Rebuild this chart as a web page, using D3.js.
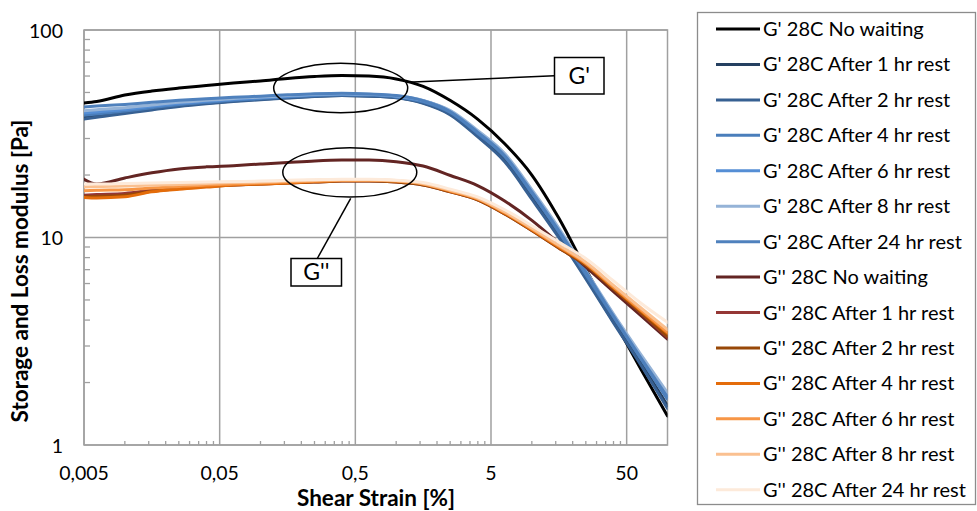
<!DOCTYPE html>
<html>
<head>
<meta charset="utf-8">
<script src="https://cdn.jsdelivr.net/npm/d3@7/dist/d3.min.js"></script>
<style>
  html, body { margin: 0; padding: 0; background: #fff; }
  svg { display: block; }
  text { font-family: Lato, "Open Sans", sans-serif; fill: #000; }
</style>
</head>
<body>
<svg id="chart" width="977" height="511"></svg>
<script>
// ---------- DATA ----------
const strain = [0.005, 0.0062, 0.01, 0.0158, 0.0251, 0.0398, 0.0631, 0.1, 0.158, 0.251, 0.398, 0.631, 1, 1.58, 2.51, 3.98, 6.31, 10, 15.8, 25.1, 39.8, 63.1, 100];

const seriesNames = [
  "G' 28C No waiting",
  "G' 28C After 1 hr rest",
  "G' 28C After 2 hr rest",
  "G' 28C After 4 hr rest",
  "G' 28C After 6 hr rest",
  "G' 28C After 8 hr rest",
  "G' 28C After 24 hr rest",
  "G'' 28C No waiting",
  "G'' 28C After 1 hr rest",
  "G'' 28C After 2 hr rest",
  "G'' 28C After 4 hr rest",
  "G'' 28C After 6 hr rest",
  "G'' 28C After 8 hr rest",
  "G'' 28C After 24 hr rest"
];

const seriesColors = [
  "#000000", "#254061", "#376092", "#4A7EBB", "#558ED5", "#95B3D7", "#4F81BD",
  "#632523", "#953735", "#984807", "#E46C0A", "#F79646", "#FAC090", "#FDEADA"
];

const gp_none = [44.5, 45.2, 48.6, 50.8, 52.5, 54.0, 55.5, 56.8, 58.4, 59.7, 60.4, 60.0, 58.1, 53.5, 45.7, 37.2, 28.3, 20.0, 12.4, 7.0, 4.05, 2.34, 1.38];
const gp_1h   = [38.0, 38.6, 40.0, 41.6, 43.2, 44.4, 45.5, 46.4, 47.2, 48.0, 48.4, 48.1, 47.3, 44.6, 39.3, 31.0, 23.6, 15.6, 10.2, 6.4, 3.95, 2.50, 1.55];
const gp_2h   = [37.2, 38.0, 39.6, 41.2, 42.8, 44.1, 45.2, 46.1, 47.0, 47.8, 48.3, 48.0, 47.1, 44.3, 39.0, 30.6, 23.2, 15.3, 10.0, 6.3, 3.90, 2.45, 1.50];
const gp_4h   = [38.8, 39.4, 40.7, 42.2, 43.7, 44.8, 45.9, 46.7, 47.6, 48.4, 48.8, 48.5, 47.6, 45.1, 40.0, 31.8, 24.5, 16.3, 10.6, 6.6, 4.15, 2.62, 1.66];
const gp_6h   = [39.8, 40.3, 41.4, 42.9, 44.3, 45.4, 46.4, 47.2, 48.0, 48.8, 49.2, 48.9, 48.0, 45.6, 40.6, 32.4, 25.0, 16.7, 10.9, 6.8, 4.25, 2.70, 1.72];
const gp_8h   = [40.8, 41.3, 42.2, 43.5, 44.8, 45.8, 46.8, 47.5, 48.3, 49.0, 49.3, 49.0, 48.2, 45.8, 40.9, 32.8, 25.4, 17.0, 11.1, 6.9, 4.30, 2.75, 1.78];
const gp_24h  = [42.6, 43.0, 43.8, 44.8, 45.8, 46.6, 47.4, 48.0, 48.7, 49.3, 49.6, 49.2, 48.3, 45.6, 40.4, 32.2, 24.8, 16.6, 10.8, 6.8, 4.20, 2.65, 1.70];

const gpp_none = [19.1, 18.1, 19.35, 20.5, 21.4, 21.9, 22.2, 22.6, 23.0, 23.4, 23.6, 23.6, 23.2, 22.1, 19.9, 17.8, 15.0, 12.1, 9.4, 7.2, 5.5, 4.23, 3.24];
const gpp_1h   = [16.0, 16.1, 16.3, 16.9, 17.4, 17.7, 17.9, 18.1, 18.3, 18.5, 18.7, 18.7, 18.5, 17.9, 16.6, 15.2, 13.0, 10.8, 8.9, 7.35, 5.65, 4.35, 3.30];
const gpp_2h   = [15.7, 15.8, 16.0, 16.7, 17.2, 17.6, 17.9, 18.1, 18.3, 18.5, 18.7, 18.7, 18.5, 17.9, 16.6, 15.2, 13.0, 10.8, 8.9, 7.35, 5.65, 4.37, 3.34];
const gpp_4h   = [15.6, 15.5, 15.7, 16.6, 17.1, 17.5, 17.9, 18.1, 18.3, 18.6, 18.8, 18.9, 18.7, 18.1, 16.7, 15.3, 13.1, 10.9, 9.0, 7.45, 5.75, 4.45, 3.45];
const gpp_6h   = [16.8, 16.9, 17.0, 17.3, 17.6, 17.9, 18.1, 18.3, 18.5, 18.7, 18.9, 18.9, 18.7, 18.1, 16.8, 15.4, 13.2, 11.0, 9.1, 7.5, 5.8, 4.5, 3.5];
const gpp_8h   = [17.5, 17.6, 17.7, 17.9, 18.0, 18.2, 18.4, 18.5, 18.7, 18.9, 19.0, 19.0, 18.8, 18.2, 16.9, 15.5, 13.3, 11.1, 9.2, 7.6, 5.9, 4.6, 3.6];
const gpp_24h  = [18.1, 18.1, 18.2, 18.3, 18.4, 18.5, 18.6, 18.7, 18.9, 19.0, 19.1, 19.1, 18.9, 18.4, 17.1, 15.7, 13.6, 11.4, 9.5, 7.9, 6.2, 4.85, 3.9];

const seriesValues = [gp_none, gp_1h, gp_2h, gp_4h, gp_6h, gp_8h, gp_24h,
                      gpp_none, gpp_1h, gpp_2h, gpp_4h, gpp_6h, gpp_8h, gpp_24h];

const xTickValues = [0.005, 0.05, 0.5, 5, 50];
const xTickLabels = ["0,005", "0,05", "0,5", "5", "50"];
const yTickValues = [1, 10, 100];
const yTickLabels = ["1", "10", "100"];

const xTitle = "Shear Strain [%]";
const yTitle = "Storage and Loss modulus [Pa]";

// ---------- LAYOUT ----------
const svg = d3.select("#chart");
const plot = { left: 84, top: 30, right: 667.5, bottom: 445 };

const x = d3.scaleLog().domain([0.005, 100]).range([plot.left, plot.right]);
const y = d3.scaleLog().domain([1, 100]).range([plot.bottom, plot.top]);

const gridColor = "#A0A0A0";

// grid lines
const gGrid = svg.append("g");
gGrid.selectAll("line.vx").data(xTickValues).enter().append("line")
  .attr("x1", d => x(d)).attr("x2", d => x(d))
  .attr("y1", plot.top).attr("y2", plot.bottom)
  .attr("stroke", gridColor).attr("stroke-width", 1.5);
gGrid.selectAll("line.hy").data(yTickValues).enter().append("line")
  .attr("x1", plot.left).attr("x2", plot.right)
  .attr("y1", d => y(d)).attr("y2", d => y(d))
  .attr("stroke", gridColor).attr("stroke-width", 1.5);

// plot border
svg.append("rect")
  .attr("x", plot.left).attr("y", plot.top)
  .attr("width", plot.right - plot.left).attr("height", plot.bottom - plot.top)
  .attr("fill", "none").attr("stroke", gridColor).attr("stroke-width", 1.5);

// minor ticks
const xMinor = [];
for (let dec = 0.005; dec < 100; dec *= 10) {
  for (let m = 2; m <= 9; m++) { const v = dec * m; if (v < 100) xMinor.push(v); }
}
svg.append("g").selectAll("line").data(xMinor).enter().append("line")
  .attr("x1", d => x(d)).attr("x2", d => x(d))
  .attr("y1", plot.bottom).attr("y2", plot.bottom - 4)
  .attr("stroke", gridColor).attr("stroke-width", 1.3);
const yMinor = [];
for (let dec = 1; dec < 100; dec *= 10) {
  for (let m = 2; m <= 9; m++) yMinor.push(dec * m);
}
svg.append("g").selectAll("line").data(yMinor).enter().append("line")
  .attr("x1", plot.left).attr("x2", plot.left + 6)
  .attr("y1", d => y(d)).attr("y2", d => y(d))
  .attr("stroke", gridColor).attr("stroke-width", 1.3);

// tick labels
svg.append("g").selectAll("text").data(xTickValues).enter().append("text")
  .attr("x", d => x(d)).attr("y", 480)
  .attr("text-anchor", "middle").attr("font-size", 19.5)
  .text((d, i) => xTickLabels[i]);
svg.append("g").selectAll("text").data(yTickValues).enter().append("text")
  .attr("x", 63).attr("y", d => y(d) + 7.5)
  .attr("text-anchor", "end").attr("font-size", 19.5)
  .text((d, i) => yTickLabels[i]);

// axis titles
svg.append("text")
  .attr("x", 376).attr("y", 506)
  .attr("text-anchor", "middle").attr("font-size", 22.5).attr("font-weight", "bold")
  .text(xTitle);
svg.append("text")
  .attr("transform", `translate(28, 271) rotate(-90)`)
  .attr("text-anchor", "middle").attr("font-size", 22.5).attr("font-weight", "bold")
  .text(yTitle);

// series lines
svg.append("clipPath").attr("id", "clip").append("rect")
  .attr("x", plot.left).attr("y", plot.top)
  .attr("width", plot.right - plot.left).attr("height", plot.bottom - plot.top);

const line = d3.line()
  .x(d => x(d[0])).y(d => y(d[1]))
  .curve(d3.curveMonotoneX);

const gLines = svg.append("g").attr("clip-path", "url(#clip)");
seriesValues.forEach((vals, i) => {
  gLines.append("path")
    .datum(strain.map((s, k) => [s, vals[k]]))
    .attr("d", line)
    .attr("fill", "none")
    .attr("stroke", seriesColors[i])
    .attr("stroke-width", 3)
    .attr("stroke-linejoin", "round")
    .attr("stroke-linecap", "round");
});

// annotations (anchored in data space)
const annot = svg.append("g");
function ellipse(cxv, cyv, rx, ry) {
  annot.append("ellipse")
    .attr("cx", x(cxv)).attr("cy", y(cyv))
    .attr("rx", rx).attr("ry", ry)
    .attr("fill", "none").attr("stroke", "#000").attr("stroke-width", 1.5);
}
ellipse(0.39, 52.5, 67, 24.7);
ellipse(0.455, 20.6, 67, 24.7);

function labelBox(txt, bx, by, bw, bh, lx1, ly1, lx2, ly2) {
  annot.append("line")
    .attr("x1", lx1).attr("y1", ly1).attr("x2", lx2).attr("y2", ly2)
    .attr("stroke", "#000").attr("stroke-width", 1.5);
  annot.append("rect")
    .attr("x", bx).attr("y", by).attr("width", bw).attr("height", bh)
    .attr("fill", "#fff").attr("stroke", "#000").attr("stroke-width", 1.5);
  annot.append("text")
    .attr("x", bx + bw / 2).attr("y", by + bh / 2 + 8)
    .attr("text-anchor", "middle").attr("font-size", 23)
    .text(txt);
}
labelBox("G'", 554.5, 57.5, 49.5, 36.5, 407.5, 82.3, 554.5, 75.7);
labelBox("G''", 291, 258.5, 50.5, 27.5, 350.7, 198.3, 317.3, 258.5);

// legend
const leg = svg.append("g");
leg.append("rect")
  .attr("x", 697.5).attr("y", 12.5).attr("width", 278).attr("height", 492)
  .attr("fill", "#fff").attr("stroke", "#8C8C8C").attr("stroke-width", 1.3);
seriesNames.forEach((name, i) => {
  const yy = 29 + i * 35.44;
  leg.append("line")
    .attr("x1", 716).attr("x2", 760).attr("y1", yy).attr("y2", yy)
    .attr("stroke", seriesColors[i]).attr("stroke-width", 3);
  leg.append("text")
    .attr("x", 763).attr("y", yy + 7)
    .attr("font-size", 20)
    .text(name);
});
</script>
</body>
</html>
